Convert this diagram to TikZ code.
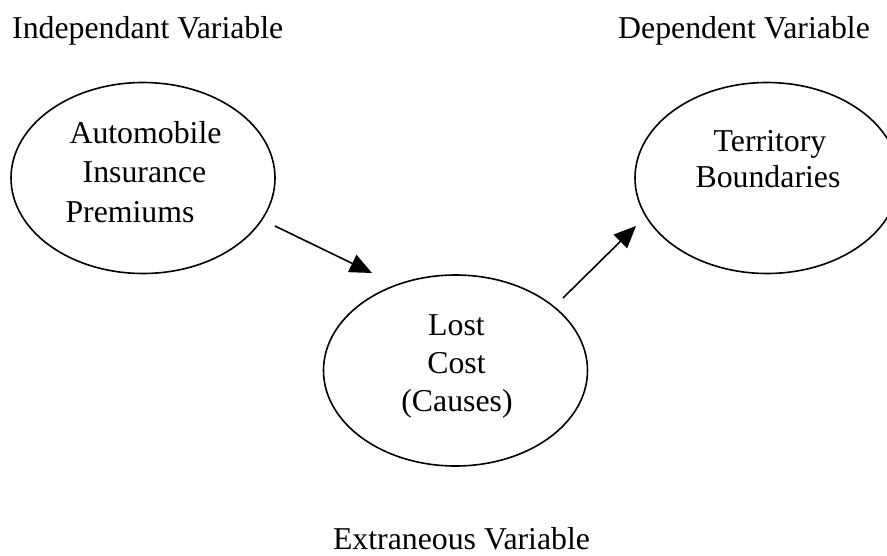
\documentclass[tikz,border=0pt]{standalone}
\usepackage{fontspec}
\setmainfont{Liberation Serif}
\usetikzlibrary{shapes.geometric,arrows.meta}
\begin{document}
\begin{tikzpicture}[x=1pt,y=-1pt,
  oval/.style={draw=black,line width=1.6pt,ellipse,inner sep=0pt,minimum width=264pt,minimum height=191pt},
  lbl/.style={inner sep=0pt,anchor=base,font=\fontsize{31.8}{38}\selectfont},
  conn/.style={line width=1.6pt,-{Triangle[length=22pt,width=19pt]}}]
\useasboundingbox (0,0) rectangle (887,555);
\clip (0,0) rectangle (887,555);
\fill[white] (0,0) rectangle (887,555);
% ellipses
\node[oval] (auto) at (143,178) {};
\node[oval] (lost) at (455.5,370.5) {};
\node[oval] (terr) at (767,178) {};
% headings
\node[lbl,anchor=base west] (iv) at (12,38) {Independant Variable};
\node[lbl,anchor=base west] (dv) at (618,38) {Dependent Variable};
\node[lbl] (ev) at (461.5,549) {Extraneous Variable};
% ellipse texts
\node[lbl] (t1) at (145.5,143) {Automobile};
\node[lbl] (t2) at (144.5,182) {Insurance};
\node[lbl] (t3) at (130,222) {Premiums};
\node[lbl] (t4) at (456.5,335) {Lost};
\node[lbl] (t5) at (456.5,373) {Cost};
\node[lbl] (t6) at (457,411) {(Causes)};
\node[lbl] (t7) at (770,151) {Territory};
\node[lbl] (t8) at (768,187) {Boundaries};
% connectors
\coordinate (a1s) at (275,226);
\coordinate (a1e) at (372,273);
\coordinate (a2s) at (563,298);
\coordinate (a2e) at (636,226);
\draw[conn] (a1s) -- (a1e);
\draw[conn] (a2s) -- (a2e);
\end{tikzpicture}
\end{document}
